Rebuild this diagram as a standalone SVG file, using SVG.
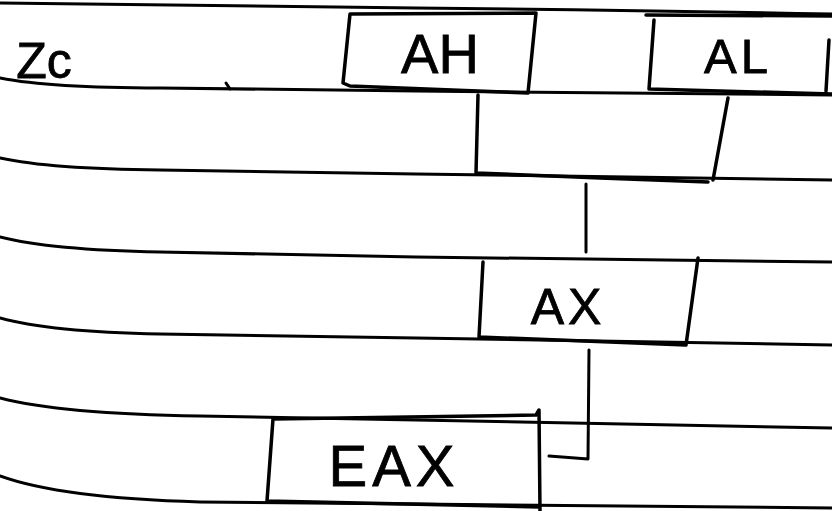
<svg xmlns="http://www.w3.org/2000/svg" width="832" height="511" viewBox="0 0 832 511">
<style>
.rule{fill:none;stroke:#000;stroke-width:3;stroke-linecap:round}
.box{fill:none;stroke:#000;stroke-width:3.5;stroke-linecap:round;stroke-linejoin:round}
.conn{fill:none;stroke:#000;stroke-width:3;stroke-linecap:round;stroke-linejoin:round}
.lbl{font-family:"Liberation Sans",Arial,sans-serif;fill:#000;text-anchor:middle;stroke:#000;stroke-width:0.8}
</style>
<rect width="832" height="511" fill="#fff"/>
<g id="rules">
<path class="rule" d="M0,3 Q200,6 416,8 T832,14"/>
<path class="rule" d="M0,78 Q50,88 160,88 L416,91 L832,95"/>
<path class="rule" d="M0,158 Q50,169 160,170 L416,174 L832,180"/>
<path class="rule" d="M0,237 Q50,250 160,252 L416,257 L832,262"/>
<path class="rule" d="M0,318 Q50,332 160,334 L416,338 L832,345"/>
<path class="rule" d="M0,398 Q60,414 200,416 L416,420 L832,428"/>
<path class="rule" d="M0,476 Q60,498 200,502 L416,504 L832,508"/>
<path class="rule" d="M226,83 L230,89" stroke-width="4"/>
</g>
<g id="zc"><text class="lbl" x="44" y="78" font-size="50">Zc</text></g>
<g id="AH">
<path class="box" d="M350,14 L343,83 L350,86 L528,93 L536,13 Z"/>
<text class="lbl" x="440" y="73" font-size="56">AH</text>
</g>
<g id="AL">
<path class="box" d="M646,15 L832,16 M654,20 L649,89 L832,94 M829,40 L826,91"/>
<text class="lbl" x="738" y="73" font-size="49" letter-spacing="4">AL</text>
</g>
<g id="row2">
<path class="box" d="M478,95 L476,173 L600,178 L708,182 M728,98 L713,180"/>
</g>
<g id="AX">
<path class="box" d="M483,262 L479,337 L686,345 L698,258"/>
<text class="lbl" x="568" y="324" font-size="50" letter-spacing="4">AX</text>
</g>
<g id="EAX">
<path class="box" d="M273,419 L267,501 L540,507 M273,419 L536,415 L539,410 L540,511"/>
<text class="lbl" x="394" y="486" font-size="58" letter-spacing="5">EAX</text>
</g>
<g id="connectors">
<path class="conn" d="M586,184 L586,252" stroke-width="4"/>
<path class="conn" d="M589,350 L588,459 L549,456"/>
</g>
</svg>
